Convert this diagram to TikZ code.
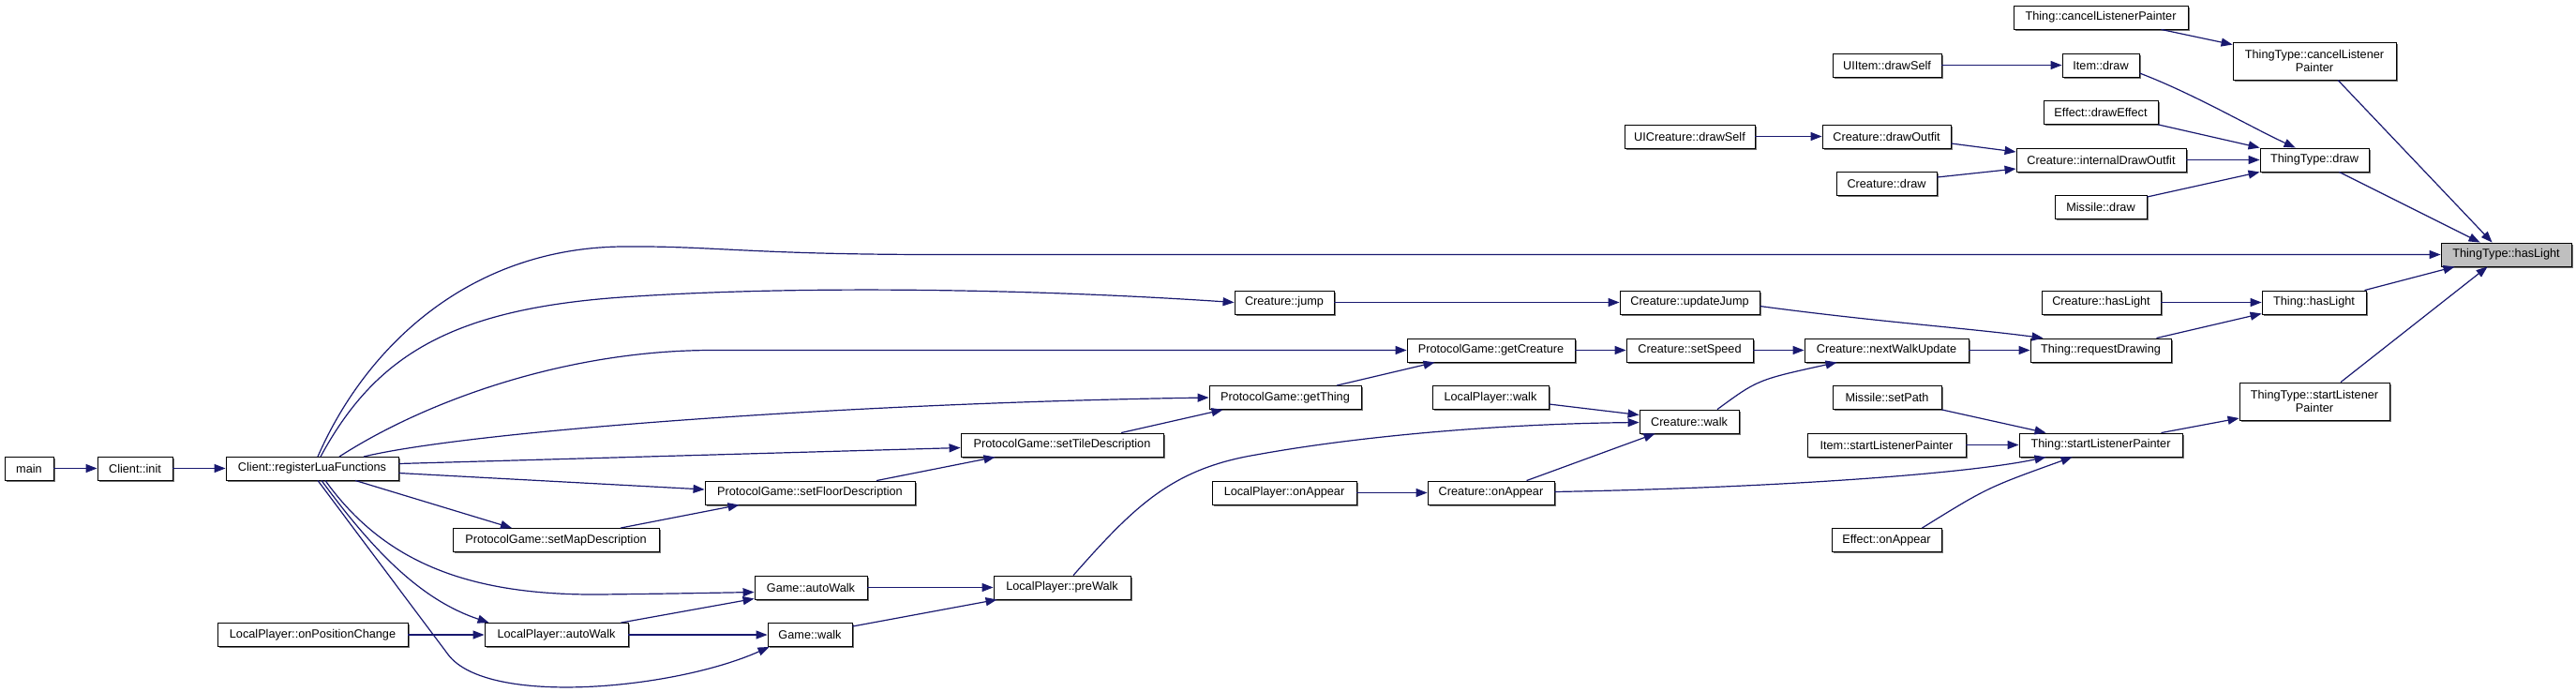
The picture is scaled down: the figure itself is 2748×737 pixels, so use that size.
\documentclass[tikz,border=0pt]{standalone}
\usepackage{fontspec}
\setmainfont{Liberation Sans}
\usetikzlibrary{arrows.meta,calc,shadows}
\definecolor{midblue}{HTML}{191970}
\definecolor{hilite}{HTML}{BFBFBF}
\newcommand\fnfont{\fontsize{12.7}{14.5}\selectfont}
\begin{document}
\begin{tikzpicture}[x=1pt,y=-1pt,
  fn/.style={draw=black, fill=white, line width=0.9pt, inner sep=0pt, minimum height=25pt, font=\fnfont,
    general shadow={fill=black!55, shadow xshift=1.5pt, shadow yshift=-1.5pt}},
  conn/.style={draw=midblue, line width=1.2pt, -{Triangle[length=12pt,width=9pt]}}]
\fill[white] (0,0) rectangle (2748,737);
\useasboundingbox (0,0) rectangle (2748,737);

\node[fn,minimum width=52pt] (main) at (31,499.5) {main};
\node[fn,minimum width=80pt] (init) at (144,499.5) {Client::init};
\node[fn,minimum width=184pt] (reg) at (333,499.5) {Client::registerLuaFunctions};
\node[fn,minimum width=220pt] (setMap) at (593,576) {ProtocolGame::setMapDescription};
\node[fn,minimum width=224pt] (setFloor) at (864,525.5) {ProtocolGame::setFloorDescription};
\node[fn,minimum width=216pt] (setTile) at (1133,474.5) {ProtocolGame::setTileDescription};
\node[fn,minimum width=162pt] (getThing) at (1371,424) {ProtocolGame::getThing};
\node[fn,minimum width=179pt] (getCreature) at (1590.5,373.5) {ProtocolGame::getCreature};
\node[fn,minimum width=106pt] (jump) at (1370,322.5) {Creature::jump};
\node[fn,minimum width=149pt] (updateJump) at (1802.5,322.5) {Creature::updateJump};
\node[fn,minimum width=135pt] (setSpeed) at (1802.5,373.5) {Creature::setSpeed};
\node[fn,minimum width=175pt] (nextWalk) at (2012.5,373.5) {Creature::nextWalkUpdate};
\node[fn,minimum width=150pt] (reqDraw) at (2241,373.5) {Thing::requestDrawing};
\node[fn,minimum width=127pt] (crHasLight) at (2241.5,322.5) {Creature::hasLight};
\node[fn,minimum width=111pt] (thHasLight) at (2468.5,322.5) {Thing::hasLight};
\node[fn,fill=hilite,minimum width=139pt] (ttHasLight) at (2673.5,271.5) {ThingType::hasLight};
\node[fn,minimum width=174pt,minimum height=40pt,align=center] (ttCancel) at (2469,65) {ThingType::cancelListener\\Painter};
\node[fn,minimum width=186pt] (thCancel) at (2241,18.5) {Thing::cancelListenerPainter};
\node[fn,minimum width=116pt] (uiItem) at (2013,69.5) {UIItem::drawSelf};
\node[fn,minimum width=82pt] (itemDraw) at (2241,69.5) {Item::draw};
\node[fn,minimum width=122pt] (effDraw) at (2241,120) {Effect::drawEffect};
\node[fn,minimum width=139pt] (uiCreature) at (1802.5,145.5) {UICreature::drawSelf};
\node[fn,minimum width=137pt] (drawOutfit) at (2012.5,145.5) {Creature::drawOutfit};
\node[fn,minimum width=181pt] (intDraw) at (2241.5,170.5) {Creature::internalDrawOutfit};
\node[fn,minimum width=107pt] (crDraw) at (2012.5,195.5) {Creature::draw};
\node[fn,minimum width=116pt] (ttDraw) at (2469,170.5) {ThingType::draw};
\node[fn,minimum width=98pt] (misDraw) at (2241,221) {Missile::draw};
\node[fn,minimum width=124pt] (lpWalk) at (1590,424) {LocalPlayer::walk};
\node[fn,minimum width=106pt] (crWalk) at (1802,449.5) {Creature::walk};
\node[fn,minimum width=154pt] (lpOnAppear) at (1370,525.5) {LocalPlayer::onAppear};
\node[fn,minimum width=135pt] (crOnAppear) at (1590.5,525.5) {Creature::onAppear};
\node[fn,minimum width=116pt] (misSetPath) at (2013,424) {Missile::setPath};
\node[fn,minimum width=169pt] (itemSLP) at (2012.5,474.5) {Item::startListenerPainter};
\node[fn,minimum width=174pt] (thSLP) at (2241,474.5) {Thing::startListenerPainter};
\node[fn,minimum width=160pt,minimum height=40pt,align=center] (ttSLP) at (2469,428) {ThingType::startListener\\Painter};
\node[fn,minimum width=117pt] (effOnAppear) at (2012.5,576) {Effect::onAppear};
\node[fn,minimum width=120pt] (gAutoWalk) at (865,626.5) {Game::autoWalk};
\node[fn,minimum width=146pt] (preWalk) at (1133,626.5) {LocalPlayer::preWalk};
\node[fn,minimum width=153pt] (lpAutoWalk) at (593.5,677) {LocalPlayer::autoWalk};
\node[fn,minimum width=203pt] (onPosChange) at (333.5,677) {LocalPlayer::onPositionChange};
\node[fn,minimum width=90pt] (gWalk) at (864,677) {Game::walk};

% left chain
\draw[conn] (main.east) -- (init.west);
\draw[conn] (init.east) -- (reg.west);
% registerLuaFunctions fan-out
\draw[conn] ($(reg.center)+(6,-12.5)$) .. controls (390,370) and (500,265) .. (663,263)
  .. controls (760,262) and (800,271.5) .. (1000,271.5) -- (ttHasLight.west);
\draw[conn] ($(reg.center)+(9,-12.5)$) .. controls (400,380) and (480,330) .. (663,317)
  .. controls (850,304) and (1100,308) .. (jump.west);
\draw[conn] ($(reg.center)+(29,-12.5)$) .. controls (450,430) and (600,373.5) .. (760,373.5) -- (getCreature.west);
\draw[conn] ($(reg.center)+(55,-12.5)$) .. controls (500,460) and (900,430) .. (getThing.west);
\draw[conn] ($(reg.east)+(0,-5)$) -- ($(setTile.west)+(0,3)$);
\draw[conn] ($(reg.east)+(0,5)$) -- ($(setFloor.west)+(0,-3.5)$);
\draw[conn] ($(reg.south)+(46,0)$) -- ($(setMap.north)+(-47,0)$);
\draw[conn] ($(reg.south)+(14,0)$) .. controls (410,600) and (500,635) .. (640,634)
  .. controls (720,633) .. ($(gAutoWalk.west)+(0,5)$);
\draw[conn] ($(reg.south)+(10,0)$) .. controls (400,590) and (450,640) .. ($(lpAutoWalk.north west)+(5,0)$);
\coordinate (gwbend) at (478,698);
\draw[conn] ($(reg.south)+(6,0)$) -- (gwbend) .. controls (520,754) and (720,735) .. ($(gWalk.south west)+(2,0)$);
% protocol chain
\draw[conn] ($(setMap.north)+(69,0)$) -- ($(setFloor.south west)+(37,0)$);
\draw[conn] ($(setFloor.north)+(71,0)$) -- ($(setTile.south west)+(37,0)$);
\draw[conn] ($(setTile.north)+(63,0)$) -- ($(getThing.south west)+(15,0)$);
\draw[conn] ($(getThing.north)+(55,0)$) -- ($(getCreature.south west)+(30,0)$);
\draw[conn] (getCreature.east) -- (setSpeed.west);
\draw[conn] (setSpeed.east) -- (nextWalk.west);
\draw[conn] (nextWalk.east) -- (reqDraw.west);
\draw[conn] (jump.east) -- (updateJump.west);
\draw[conn] ($(updateJump.east)+(0,4)$) .. controls (2000,343) and (2100,350) .. ($(reqDraw.north west)+(14,0)$);
\draw[conn] ($(reqDraw.north east)+(-16,0)$) -- ($(thHasLight.south west)+(0,-1)$);
\draw[conn] (crHasLight.east) -- (thHasLight.west);
\draw[conn] ($(thHasLight.north east)+(-2,0)$) -- ($(ttHasLight.south west)+(15,0)$);
% walk
\draw[conn] ($(lpWalk.east)+(0,7)$) -- ($(crWalk.west)+(0,-7)$);
\draw[conn] ($(crWalk.north)+(30,0)$) .. controls (1875,405) .. ($(nextWalk.south west)+(35,0)$);
\coordinate (pwbend) at (1340,485);
\draw[conn] ($(preWalk.north)+(12,0)$) .. controls (1210,540) and (1250,500) .. (pwbend)
  .. controls (1450,465) and (1600,452) .. ($(crWalk.west)+(0,1)$);
\draw[conn] ($(crOnAppear.north)+(38,0)$) -- ($(crWalk.south west)+(17,0)$);
\draw[conn] (lpOnAppear.east) -- (crOnAppear.west);
\draw[conn] ($(crOnAppear.east)+(0,-1)$) .. controls (1900,520) and (2100,505) .. ($(thSLP.south west)+(29,0)$);
\draw[conn] (misSetPath.south east) -- ($(thSLP.north west)+(29,0)$);
\draw[conn] (itemSLP.east) -- (thSLP.west);
\draw[conn] ($(effOnAppear.north east)+(-21,0)$) .. controls (2120,520) .. ($(thSLP.south west)+(57,0)$);
\draw[conn] ($(thSLP.north east)+(-23,0)$) -- ($(ttSLP.west)+(0,18)$);
\draw[conn] ($(ttSLP.north)+(28,0)$) -- ($(ttHasLight.south west)+(50,0)$);
% game walk
\draw[conn] (gAutoWalk.east) -- (preWalk.west);
\draw[conn] ($(gWalk.east)+(0,-9)$) -- ($(preWalk.south west)+(4,0)$);
\draw[conn] ($(lpAutoWalk.north east)+(-8,0)$) -- ($(gAutoWalk.south west)+(0,-1)$);
\draw[conn] (lpAutoWalk.east) -- (gWalk.west);
\draw[conn] (onPosChange.east) -- (lpAutoWalk.west);
% top group
\draw[conn] ($(thCancel.south east)+(-29,0)$) -- ($(ttCancel.north west)+(0,3)$);
\draw[conn] ($(ttCancel.south)+(25,0)$) -- ($(ttHasLight.north west)+(55,0)$);
\draw[conn] (uiItem.east) -- (itemDraw.west);
\draw[conn] ($(itemDraw.east)+(0,8.5)$) .. controls (2340,100) and (2400,135) .. ($(ttDraw.north west)+(38,0)$);
\draw[conn] (effDraw.south east) -- (ttDraw.north west);
\draw[conn] (uiCreature.east) -- (drawOutfit.west);
\draw[conn] ($(drawOutfit.east)+(0,7.5)$) -- ($(intDraw.west)+(0,-8.5)$);
\draw[conn] ($(crDraw.east)+(0,-6.5)$) -- ($(intDraw.west)+(0,9.5)$);
\draw[conn] (intDraw.east) -- (ttDraw.west);
\draw[conn] ($(misDraw.east)+(0,-11)$) -- (ttDraw.south west);
\draw[conn] ($(ttDraw.south east)+(-32,0)$) -- ($(ttHasLight.north west)+(42,0)$);
\end{tikzpicture}
\end{document}
